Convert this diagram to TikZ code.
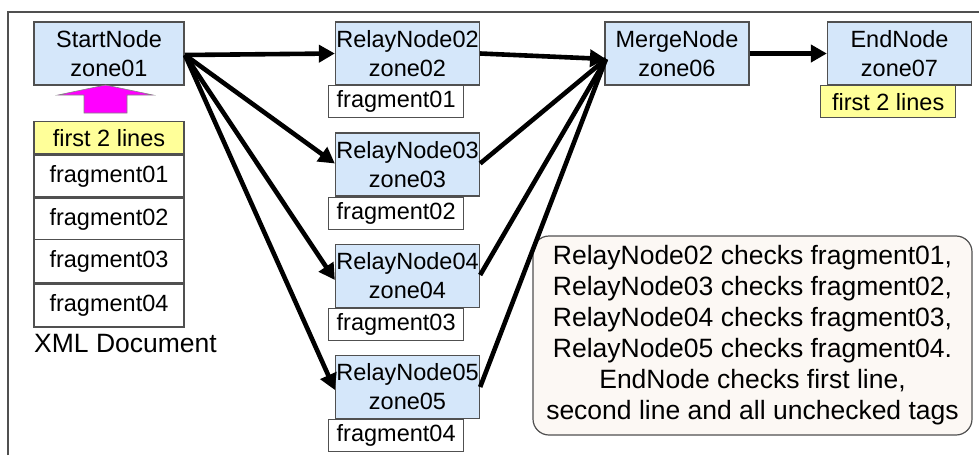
\documentclass[tikz,border=0pt]{standalone}
\usepackage{fontspec}
\setmainfont{Liberation Sans}
\usetikzlibrary{arrows.meta}

\definecolor{zoneblue}{HTML}{D5E7FA}
\definecolor{hiyellow}{HTML}{FFFF99}
\definecolor{edgegray}{HTML}{505050}
\definecolor{notefill}{HTML}{FCF8F4}
\definecolor{pushpink}{HTML}{FF00FF}

\tikzset{
  zonebox/.style={draw=edgegray, line width=1.3pt, fill=zoneblue, inner sep=0pt,
    minimum width=#1, minimum height=63pt, align=center,
    font=\fontsize{23.5}{29}\selectfont},
  zonebox/.default=144pt,
  fragbox/.style={draw=edgegray, line width=1.3pt, fill=white, inner sep=0pt,
    minimum width=135pt, minimum height=32pt, font=\fontsize{23.5}{27}\selectfont},
  linesbox/.style={fragbox, fill=hiyellow},
  docrow/.style={draw=edgegray, line width=1.3pt, fill=white, inner sep=0pt,
    minimum width=150pt, minimum height=#1, font=\fontsize{23.5}{27}\selectfont},
  flow/.style={line width=4.6pt, -{Triangle[length=16pt,width=17pt]}},
}

\begin{document}
\begin{tikzpicture}[x=1pt,y=-1pt]
\useasboundingbox (0,0) rectangle (979,455);

% frame edges
\draw[edgegray, line width=1.3pt] (8,455) -- (8,12) -- (979,12);

% start node and the XML document stack
\node[zonebox=150pt] (start) at (109,53.5) {StartNode\\zone01};
\node[docrow=32pt, fill=hiyellow, anchor=north] (doc0) at (109,121) {first 2 lines};
\node[docrow=42pt, anchor=north] (doc1) at (doc0.south) {fragment01};
\node[docrow=42pt, anchor=north] (doc2) at (doc1.south) {fragment02};
\node[docrow=43pt, anchor=north] (doc3) at (109,239) {fragment03};
\node[docrow=43pt, anchor=north] (doc4) at (doc3.south) {fragment04};
\node[anchor=west, inner sep=0pt, font=\fontsize{26.5}{30}\selectfont] (doclabel) at (34,344) {XML Document};

% upward push arrow from the document into the start node
\filldraw[fill=pushpink, draw=edgegray!70, line width=0.6pt]
  (84,113) -- (127,113) -- (127,95) -- (153,95) -- (105.5,85) -- (58,95) -- (84,95) -- cycle;

% relay nodes with their fragments
\node[zonebox] (r2) at (407.5,53.5) {RelayNode02\\zone02};
\node[fragbox, anchor=north west] (f1) at (328,85) {fragment01};
\node[zonebox] (r3) at (407.5,164.5) {RelayNode03\\zone03};
\node[fragbox, anchor=north west] (f2) at (328,196.5) {fragment02};
\node[zonebox] (r4) at (407.5,276) {RelayNode04\\zone04};
\node[fragbox, anchor=north west] (f3) at (328,308) {fragment03};
\node[zonebox] (r5) at (407.5,387) {RelayNode05\\zone05};
\node[fragbox, anchor=north west] (f4) at (328,419) {fragment04};

% merge and end nodes
\node[zonebox] (merge) at (677,53.5) {MergeNode\\zone06};
\node[zonebox] (end) at (899.5,53.5) {EndNode\\zone07};
\node[linesbox, anchor=north west] (endlines) at (820,85) {first 2 lines};

% note
\node[draw=edgegray, line width=1.2pt, fill=notefill, rounded corners=16pt,
      minimum width=439pt, minimum height=199pt, inner sep=0pt, align=center,
      font=\fontsize{26.5}{31}\selectfont] (note) at (752.5,335.5)
  {RelayNode02 checks fragment01,\\
   RelayNode03 checks fragment02,\\
   RelayNode04 checks fragment03,\\
   RelayNode05 checks fragment04.\\
   EndNode checks first line,\\
   second line and all unchecked tags};

% connectors
\coordinate (fanout) at (185,55);
\coordinate (mergein) at (606,59);
\draw[flow] (fanout) -- (r2.west);
\draw[flow] (fanout) -- ([yshift=1pt]r3.west);
\draw[flow] (fanout) -- ([yshift=-4pt]r4.west);
\draw[flow] (fanout) -- ([yshift=-3pt]r5.west);
\draw[flow] (r2.east) -- (mergein);
\draw[flow, -] ([yshift=1pt]r3.east) -- (mergein);
\draw[flow, -] ([yshift=1pt]r4.east) -- (mergein);
\draw[flow, -] (r5.east) -- (mergein);
\draw[flow] (merge.east) -- (end.west);
\end{tikzpicture}
\end{document}
